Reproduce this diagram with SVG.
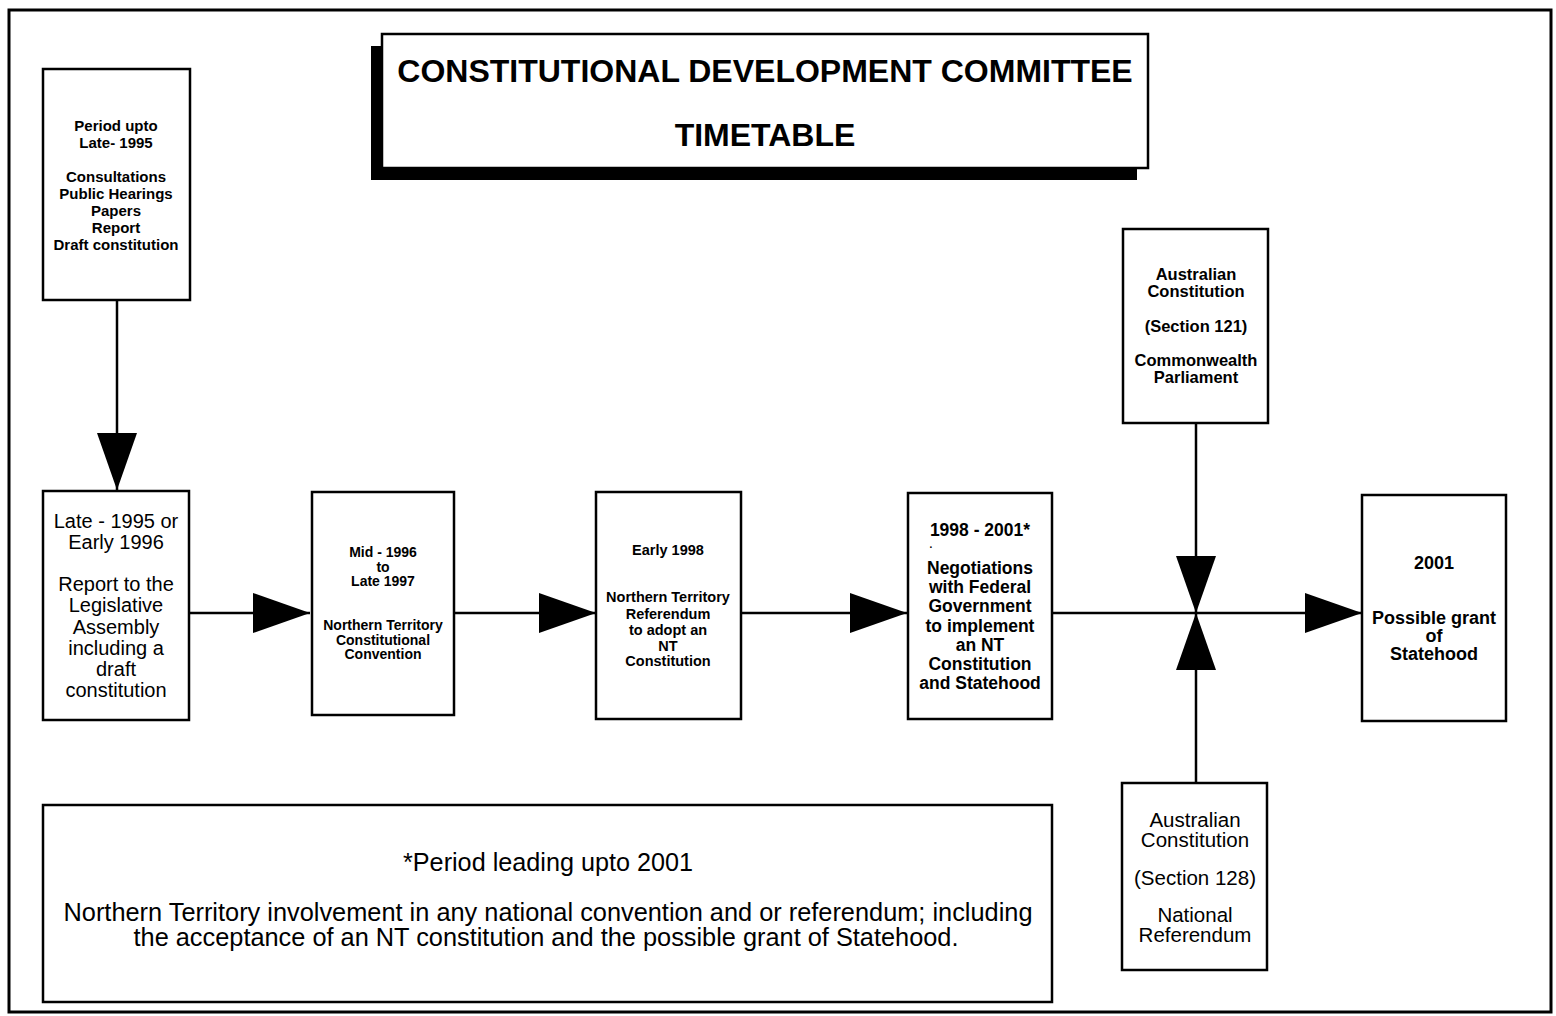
<svg xmlns="http://www.w3.org/2000/svg" width="1556" height="1016" viewBox="0 0 1556 1016">
<style>
.box{fill:#fff;stroke:#000;stroke-width:2.5}
.ln{stroke:#000;stroke-width:2.5;fill:none}
text{font-family:"Liberation Sans",Arial,sans-serif;fill:#000;text-anchor:middle}
.b{font-weight:bold}
</style>
<defs>
<marker id="ah" markerUnits="userSpaceOnUse" markerWidth="58" markerHeight="40" refX="57" refY="20" orient="auto" viewBox="0 0 58 40">
<path d="M0,0 L57,20 L0,40 Z" fill="#000"/>
</marker>
</defs>
<rect width="1556" height="1016" fill="#fff"/>
<rect x="9" y="10" width="1542" height="1002" fill="none" stroke="#000" stroke-width="3"/>

<g id="title">
<rect x="371" y="46" width="766" height="134" fill="#000"/>
<rect x="382" y="34" width="766" height="134" class="box"/>
<text x="765" y="82" class="b" font-size="32">CONSTITUTIONAL DEVELOPMENT COMMITTEE</text>
<text x="765" y="146" class="b" font-size="32">TIMETABLE</text>
</g>

<g id="connectors">
<line x1="117" y1="300" x2="117" y2="490" class="ln" marker-end="url(#ah)"/>
<line x1="190" y1="613" x2="310" y2="613" class="ln" marker-end="url(#ah)"/>
<line x1="454" y1="613" x2="596" y2="613" class="ln" marker-end="url(#ah)"/>
<line x1="741" y1="613" x2="907" y2="613" class="ln" marker-end="url(#ah)"/>
<line x1="1052" y1="613" x2="1362" y2="613" class="ln" marker-end="url(#ah)"/>
<line x1="1196" y1="423" x2="1196" y2="613" class="ln" marker-end="url(#ah)"/>
<line x1="1196" y1="783" x2="1196" y2="613" class="ln" marker-end="url(#ah)"/>
</g>

<g id="node-period">
<rect x="43" y="69" width="147" height="231" class="box"/>
<g class="b" font-size="15">
<text x="116" y="131">Period upto</text>
<text x="116" y="148">Late- 1995</text>
<text x="116" y="182">Consultations</text>
<text x="116" y="199">Public Hearings</text>
<text x="116" y="216">Papers</text>
<text x="116" y="233">Report</text>
<text x="116" y="250">Draft constitution</text>
</g>
</g>

<g id="node-report">
<rect x="43" y="491" width="146" height="229" class="box"/>
<g font-size="20">
<text x="116" y="528">Late - 1995 or</text>
<text x="116" y="549">Early 1996</text>
<text x="116" y="591">Report to the</text>
<text x="116" y="612">Legislative</text>
<text x="116" y="634">Assembly</text>
<text x="116" y="655">including a</text>
<text x="116" y="676">draft</text>
<text x="116" y="697">constitution</text>
</g>
</g>

<g id="node-convention">
<rect x="312" y="492" width="142" height="223" class="box"/>
<g class="b" font-size="14">
<text x="383" y="557">Mid - 1996</text>
<text x="383" y="572">to</text>
<text x="383" y="586">Late 1997</text>
<text x="383" y="630">Northern Territory</text>
<text x="383" y="645">Constitutional</text>
<text x="383" y="659">Convention</text>
</g>
</g>

<g id="node-referendum">
<rect x="596" y="492" width="145" height="227" class="box"/>
<g class="b" font-size="14.5">
<text x="668" y="555">Early 1998</text>
<text x="668" y="602">Northern Territory</text>
<text x="668" y="619">Referendum</text>
<text x="668" y="635">to adopt an</text>
<text x="668" y="651">NT</text>
<text x="668" y="666">Constitution</text>
</g>
</g>

<g id="node-negotiations">
<rect x="908" y="493" width="144" height="226" class="box"/>
<g font-size="17.5" class="b">
<text x="980" y="536">1998 - 2001*</text>
<text x="931" y="548" font-size="10">.</text>
<text x="980" y="574">Negotiations</text>
<text x="980" y="593">with Federal</text>
<text x="980" y="612">Government</text>
<text x="980" y="632">to implement</text>
<text x="980" y="651">an NT</text>
<text x="980" y="670">Constitution</text>
<text x="980" y="689">and Statehood</text>
</g>
</g>

<g id="node-statehood">
<rect x="1362" y="495" width="144" height="226" class="box"/>
<g class="b" font-size="18">
<text x="1434" y="569">2001</text>
<text x="1434" y="624">Possible grant</text>
<text x="1434" y="642">of</text>
<text x="1434" y="660">Statehood</text>
</g>
</g>

<g id="node-section121">
<rect x="1123" y="229" width="145" height="194" class="box"/>
<g font-size="16.5" class="b">
<text x="1196" y="280">Australian</text>
<text x="1196" y="297">Constitution</text>
<text x="1196" y="332">(Section 121)</text>
<text x="1196" y="366">Commonwealth</text>
<text x="1196" y="383">Parliament</text>
</g>
</g>

<g id="node-section128">
<rect x="1122" y="783" width="145" height="187" class="box"/>
<g font-size="20.5">
<text x="1195" y="827">Australian</text>
<text x="1195" y="847">Constitution</text>
<text x="1195" y="885">(Section 128)</text>
<text x="1195" y="922">National</text>
<text x="1195" y="942">Referendum</text>
</g>
</g>

<g id="note">
<rect x="43" y="805" width="1009" height="197" class="box"/>
<g font-size="25">
<text x="548" y="871" textLength="290" lengthAdjust="spacingAndGlyphs">*Period leading upto 2001</text>
<text x="548" y="921" textLength="969" lengthAdjust="spacingAndGlyphs">Northern Territory involvement in any national convention and or referendum; including</text>
<text x="546" y="946" textLength="825" lengthAdjust="spacingAndGlyphs">the acceptance of an NT constitution and the possible grant of Statehood.</text>
</g>
</g>
</svg>
